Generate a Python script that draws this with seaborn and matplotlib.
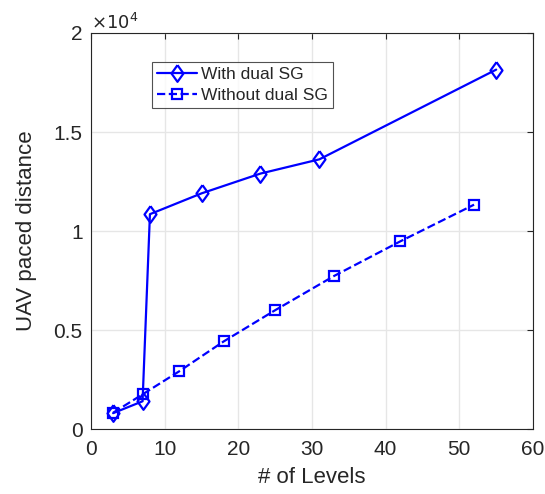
import matplotlib
matplotlib.use("Agg")
import matplotlib.pyplot as plt
import seaborn as sns
import pandas as pd

levels_with = [3, 7, 8, 15, 23, 31, 55]
dist_with = [800, 1400, 10850, 11900, 12900, 13620, 18150]
levels_without = [3, 7, 12, 18, 25, 33, 42, 52]
dist_without = [820, 1750, 2920, 4420, 6000, 7730, 9480, 11330]

df1 = pd.DataFrame({"x": levels_with, "y": [v / 1e4 for v in dist_with]})
df2 = pd.DataFrame({"x": levels_without, "y": [v / 1e4 for v in dist_without]})

sns.set_style("white")
plt.rcParams['font.family'] = ['Liberation Sans', 'DejaVu Sans']

fig = plt.figure(figsize=(5.45, 4.94), dpi=100)
ax = fig.add_axes([91/545, 65/494, 442/545, 396/494])

blue = "#0000FF"
diamond = [(0, 1), (0.72, 0), (0, -1), (-0.72, 0), (0, 1)]
sns.lineplot(data=df1, x="x", y="y", ax=ax, color=blue, linewidth=1.6,
             marker=diamond, markersize=12, markerfacecolor="none",
             markeredgecolor=blue, markeredgewidth=1.6, label="With dual SG")
sns.lineplot(data=df2, x="x", y="y", ax=ax, color=blue, linewidth=1.6,
             linestyle="--", marker="s", markersize=7, markerfacecolor="none",
             markeredgecolor=blue, markeredgewidth=1.6, label="Without dual SG")

ax.set_xlim(0, 60)
ax.set_ylim(0, 2)
ax.set_xticks([0, 10, 20, 30, 40, 50, 60])
ax.set_yticks([0, 0.5, 1, 1.5, 2])
ax.set_yticklabels(["0", "0.5", "1", "1.5", "2"])
ax.grid(True, color="#e6e6e6", linewidth=1)
ax.tick_params(direction="in", top=True, right=True, length=4,
               labelsize=15, colors="#262626", width=0.8)
ax.tick_params(axis="x", pad=8)
ax.tick_params(axis="y", pad=6)
for s in ax.spines.values():
    s.set_color("#262626")
    s.set_linewidth(0.8)
ax.set_xlabel("# of Levels", fontsize=16, color="#262626", labelpad=6)
ax.set_ylabel("UAV paced distance", fontsize=16, color="#262626", labelpad=12)
ax.text(0.0, 1.0, r"$\times10^4$", transform=ax.transAxes, fontsize=13,
        color="#262626", ha="left", va="bottom")

leg = ax.legend(loc="upper left", bbox_to_anchor=(0.138, 0.927), fontsize=12.5,
                frameon=True, fancybox=False, edgecolor="#262626",
                borderpad=0.3, handlelength=2.3, handletextpad=0.2,
                labelspacing=0.3, borderaxespad=0)
leg.get_frame().set_linewidth(0.8)

fig.savefig("out.png", dpi=100)
